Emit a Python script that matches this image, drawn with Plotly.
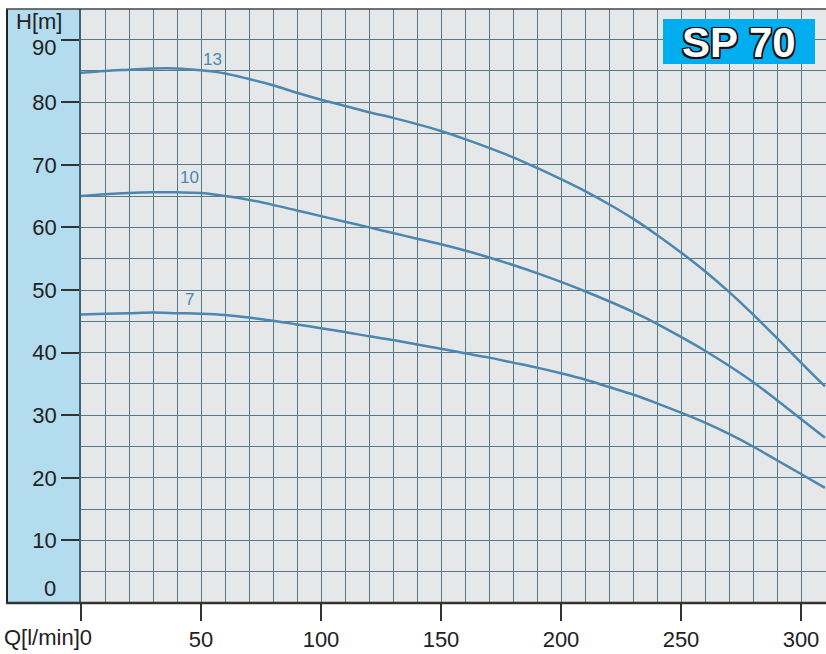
"""
Pump performance curves (H over Q) for the SP 70 series.
"""
import plotly.graph_objects as go

# flow rate in l/min
flow = [0, 10, 20, 30, 40, 50, 60, 70, 80, 90, 100, 110, 120, 130, 140, 150,
        160, 170, 180, 190, 200, 210, 220, 230, 240, 250, 260, 270, 280, 290, 300, 310]

# head in m for each number of stages
head_13 = [84.7, 85.0, 85.2, 85.4, 85.4, 85.1, 84.6, 83.7, 82.7, 81.5, 80.4, 79.4,
           78.4, 77.5, 76.5, 75.4, 74.1, 72.7, 71.2, 69.5, 67.7, 65.8, 63.7, 61.4,
           58.8, 56.0, 53.0, 49.7, 46.1, 42.3, 38.4, 34.6]
head_10 = [65.0, 65.3, 65.5, 65.6, 65.6, 65.5, 65.0, 64.4, 63.6, 62.7, 61.8, 60.9,
           60.0, 59.1, 58.2, 57.3, 56.3, 55.2, 54.0, 52.7, 51.3, 49.8, 48.2, 46.5,
           44.6, 42.5, 40.3, 37.9, 35.3, 32.4, 29.4, 26.4]
head_7 = [46.1, 46.2, 46.3, 46.4, 46.3, 46.2, 46.0, 45.6, 45.1, 44.5, 43.9, 43.3,
          42.6, 42.0, 41.3, 40.6, 39.9, 39.2, 38.4, 37.6, 36.7, 35.7, 34.5, 33.3,
          31.9, 30.4, 28.8, 27.0, 25.0, 22.8, 20.6, 18.4]

curves = {"13": head_13, "10": head_10, "7": head_7}
# where each stage label sits (Q, H)
label_pos = {"13": (54.6, 86.8), "10": (45.4, 68.0), "7": (45.4, 48.5)}

x_ticks = [0, 50, 100, 150, 200, 250, 300]
x_text = ["", "50", "100", "150", "200", "250", "300"]
y_ticks = [10, 20, 30, 40, 50, 60, 70, 80, 90]
# 90 is drawn a bit lower (below H[m]) as a separate label
y_text = ["10", "20", "30", "40", "50", "60", "70", "80", ""]

FONT = "Liberation Sans, Arial, sans-serif"
CURVE = "#4b87b0"
GRID = "#557a8a"
W, H = 826, 654
M = dict(l=81, r=0, t=9, b=51)
PW = W - M["l"] - M["r"]
PH = H - M["t"] - M["b"]


def px_x(px):
    return (px - M["l"]) / PW


def px_y(py):
    return (H - M["b"] - py) / PH


fig = go.Figure()

for name, values in curves.items():
    fig.add_trace(go.Scatter(
        x=flow, y=values, mode="lines",
        line=dict(color=CURVE, width=2.5, shape="spline", smoothing=1),
        name=name, showlegend=False, hoverinfo="x+y"
    ))
    lx, ly = label_pos[name]
    fig.add_annotation(x=lx, y=ly, text=name, showarrow=False,
                       font=dict(family=FONT, size=17, color=CURVE))

fig.update_layout(
    width=W, height=H,
    margin=dict(M, autoexpand=False),
    paper_bgcolor="white",
    plot_bgcolor="#e6e7e9",
    font=dict(family=FONT, size=22, color="#222222"),
)

fig.update_xaxes(
    range=[0, PW / 2.4],
    tickmode="array", tickvals=x_ticks, ticktext=x_text,
    ticks="outside", ticklen=17, tickwidth=2, tickcolor="#333333",
    showgrid=True, gridcolor=GRID, gridwidth=1.4,
    minor=dict(tick0=0, dtick=10, showgrid=True, gridcolor=GRID, gridwidth=1.4),
    zeroline=False, showline=False,
)

fig.update_yaxes(
    range=[0, PH / 6.26],
    tickmode="array", tickvals=y_ticks, ticktext=y_text,
    ticks="outside", ticklen=18, tickwidth=2, tickcolor="#333333",
    showgrid=True, gridcolor=GRID, gridwidth=1.4,
    minor=dict(tick0=0, dtick=5, showgrid=True, gridcolor=GRID, gridwidth=1.4),
    zeroline=False, showline=True, linecolor="#3e6372", linewidth=1.5,
)

# light blue strip behind the H axis labels
fig.add_shape(type="rect", xref="paper", yref="paper",
              x0=px_x(7), x1=0, y0=0, y1=1,
              fillcolor="#b3dcef", line=dict(width=0), layer="below")
# frame
fig.add_shape(type="line", xref="paper", yref="paper",
              x0=px_x(7), x1=px_x(7), y0=0, y1=1,
              line=dict(color="#222222", width=2))
fig.add_shape(type="line", xref="paper", yref="paper",
              x0=px_x(6), x1=1, y0=0, y1=0,
              line=dict(color="#333333", width=2.5))
fig.add_shape(type="line", xref="paper", yref="paper",
              x0=px_x(6), x1=1, y0=1, y1=1,
              line=dict(color="#444444", width=1.5))

# SP 70 badge
fig.add_shape(type="rect", xref="paper", yref="paper",
              x0=px_x(663), x1=px_x(815), y0=px_y(64), y1=px_y(19),
              fillcolor="#00aeef", line=dict(width=0), layer="above")
outline = ", ".join(f"{dx}px {dy}px 0 #111" for dx in (-1.5, 0, 1.5)
                    for dy in (-1.5, 0, 1.5) if dx or dy)
fig.add_annotation(xref="paper", yref="paper", x=px_x(739), y=px_y(42),
                   xanchor="center", yanchor="middle",
                   text="<b>SP 70</b>", showarrow=False,
                   font=dict(family=FONT, size=42, color="white", shadow=outline))

# axis captions and the extra labels
fig.add_annotation(xref="paper", yref="paper", x=px_x(14), y=px_y(22),
                   xanchor="left", yanchor="middle", text="H[m]", showarrow=False)
fig.add_annotation(xref="paper", yref="paper", x=px_x(58), y=px_y(47),
                   xanchor="right", yanchor="middle", text="90", showarrow=False)
fig.add_annotation(xref="paper", yref="paper", x=px_x(58), y=px_y(588),
                   xanchor="right", yanchor="middle", text="0", showarrow=False)
fig.add_annotation(xref="paper", yref="paper", x=px_x(94), y=px_y(637),
                   xanchor="right", yanchor="middle", text="Q[l/min]0", showarrow=False)

# the page has a default body margin; drop it so the figure fills the window
fig.write_html("out.html", config={"displayModeBar": False},
               post_script="document.body.style.margin = '0';")
